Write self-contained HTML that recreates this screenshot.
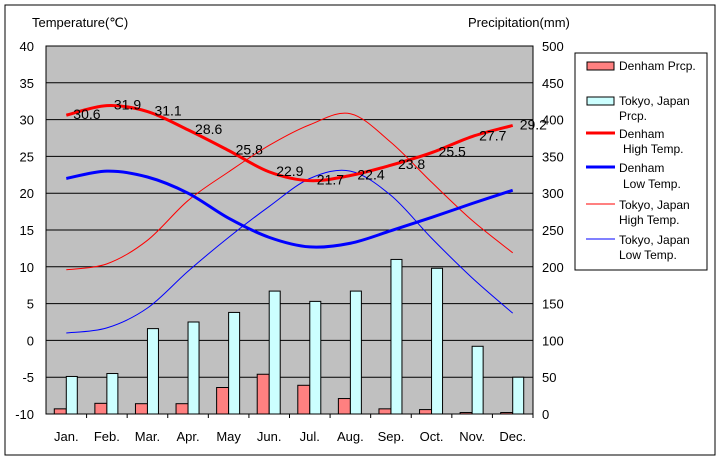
<!DOCTYPE html>
<html><head><meta charset="utf-8"><style>
html,body{margin:0;padding:0;background:#fff}
svg{display:block;font-family:"Liberation Sans",sans-serif}
</style></head><body>
<svg id="chart" width="720" height="460" xmlns="http://www.w3.org/2000/svg">
<rect x="5" y="5" width="710" height="450" fill="#fff" stroke="#000" stroke-width="1"/>
<rect x="46" y="46" width="487" height="368" fill="#c0c0c0"/>
<g id="grid"></g><g id="bars"></g><g id="lines"></g><g id="labels"></g><g id="axes"></g>
<text x="32" y="27" font-size="13">Temperature(℃)</text>
<text x="468" y="27" font-size="13">Precipitation(mm)</text>
<g>
<rect x="575" y="53" width="132" height="217" fill="#fff" stroke="#000"/>
<g><rect x="587" y="62" width="27" height="8" fill="#ff8080" stroke="#000"/><text x="619" y="70" font-size="12">Denham Prcp.</text></g>
<g><rect x="587" y="97" width="27" height="8" fill="#ccffff" stroke="#000"/><text x="619" y="105" font-size="12">Tokyo, Japan</text><text x="619" y="120" font-size="12">Prcp.</text></g>
<g><line x1="586" y1="133" x2="615" y2="133" stroke="#f00" stroke-width="3"/><text x="619" y="138" font-size="12">Denham</text><text x="623" y="153" font-size="12">High Temp.</text></g>
<g><line x1="586" y1="167" x2="615" y2="167" stroke="#00f" stroke-width="3"/><text x="619" y="172" font-size="12">Denham</text><text x="623" y="188" font-size="12">Low Temp.</text></g>
<g><line x1="586" y1="204" x2="615" y2="204" stroke="#f00" stroke-width="1"/><text x="619" y="209" font-size="12">Tokyo, Japan</text><text x="619" y="224" font-size="12">High Temp.</text></g>
<g><line x1="586" y1="239" x2="615" y2="239" stroke="#00f" stroke-width="1"/><text x="619" y="244" font-size="12">Tokyo, Japan</text><text x="619" y="259" font-size="12">Low Temp.</text></g>
</g>
</svg>
<script>
const months=["Jan.","Feb.","Mar.","Apr.","May","Jun.","Jul.","Aug.","Sep.","Oct.","Nov.","Dec."];
const denhamPrcp=[7,14.5,14,14,36,54,39,21,7,6,2,2];
const tokyoPrcp=[51,55,116,125,138,167,153,167,210,198,92,50];
const denhamHigh=[30.6,31.9,31.1,28.6,25.8,22.9,21.7,22.4,23.8,25.5,27.7,29.2];
const denhamLow=[22,23,22.2,20,16.6,14,12.7,13.2,14.9,16.7,18.6,20.4];
const tokyoHigh=[9.6,10.4,13.6,19,22.9,26.5,29.3,30.8,26.9,21.5,16.3,11.9];
const tokyoLow=[1.0,1.7,4.4,9.4,14,18.2,22,23,19.7,13.9,8.5,3.7];
const tempTicks=[40,35,30,25,20,15,10,5,0,-5,-10];
const prcpTicks=[500,450,400,350,300,250,200,150,100,50,0];
const NS="http://www.w3.org/2000/svg";
const L=46,R=533,T=46,B=414,cw=(R-L)/12;
const xC=i=>L+cw*(i+0.5);
const yT=v=>B-(v+10)/50*(B-T);
const yP=v=>B-v/500*(B-T);
function mk(tag,attrs,parent){const e=document.createElementNS(NS,tag);for(const k in attrs)e.setAttribute(k,attrs[k]);document.getElementById(parent).appendChild(e);return e;}
tempTicks.forEach(t=>{
 const y=yT(t);
 if(t>-10&&t<40){const g=mk('line',{x1:L,x2:R,y1:y,y2:y,stroke:'#000','stroke-width':1},'grid');
 
 }
 const tx=mk('text',{x:34,y:y+5,'font-size':13,'text-anchor':'end'},'axes');tx.textContent=t;
 
 
});
prcpTicks.forEach(p=>{
 const tx=mk('text',{x:542,y:yP(p)+5,'font-size':13},'axes');tx.textContent=p;
 
 
});
months.forEach((m,i)=>{
 const tx=mk('text',{x:xC(i),y:441,'font-size':13,'text-anchor':'middle'},'axes');tx.textContent=m;
 
 
 const tk=mk('line',{x1:L+cw*(i+1),x2:L+cw*(i+1),y1:B,y2:B+4,stroke:'#000'},'axes');
 
 
 const b1=mk('rect',{x:xC(i)-12,y:yP(denhamPrcp[i]),width:12,height:B-yP(denhamPrcp[i]),fill:'#ff8080',stroke:'#000','stroke-width':1},'bars');
 
 
 const b2=mk('rect',{x:xC(i),y:yP(tokyoPrcp[i]),width:11,height:B-yP(tokyoPrcp[i]),fill:'#ccffff',stroke:'#000','stroke-width':1},'bars');
 
 
});
const ax=mk('rect',{x:L,y:T,width:R-L,height:B-T,fill:'none',stroke:'#000'},'axes');


function smooth(vals){
 const p=vals.map((v,i)=>[xC(i),yT(v)]);let d=`M${p[0][0]},${p[0][1]}`;
 for(let i=0;i<p.length-1;i++){const p0=p[i-1]||p[i],p1=p[i],p2=p[i+1],p3=p[i+2]||p2;
  const c1=[p1[0]+(p2[0]-p0[0])/6,p1[1]+(p2[1]-p0[1])/6],c2=[p2[0]-(p3[0]-p1[0])/6,p2[1]-(p3[1]-p1[1])/6];
  d+=` C${c1[0]},${c1[1]} ${c2[0]},${c2[1]} ${p2[0]},${p2[1]}`;}
 return d;}
[[tokyoHigh,'#f00',1,'line-tokyo-high'],[tokyoLow,'#00f',1,'line-tokyo-low'],[denhamLow,'#00f',3,'line-denham-low'],[denhamHigh,'#f00',3,'line-denham-high']].forEach(s=>{
 const p=mk('path',{d:smooth(s[0]),fill:'none',stroke:s[1],'stroke-width':s[2]},'lines');
 
 
});
denhamHigh.forEach((v,i)=>{
 const t=mk('text',{x:xC(i)+7,y:yT(v)+4,'font-size':14},'labels');t.textContent=v.toFixed(1);
 
 
});
</script>
</body></html>
